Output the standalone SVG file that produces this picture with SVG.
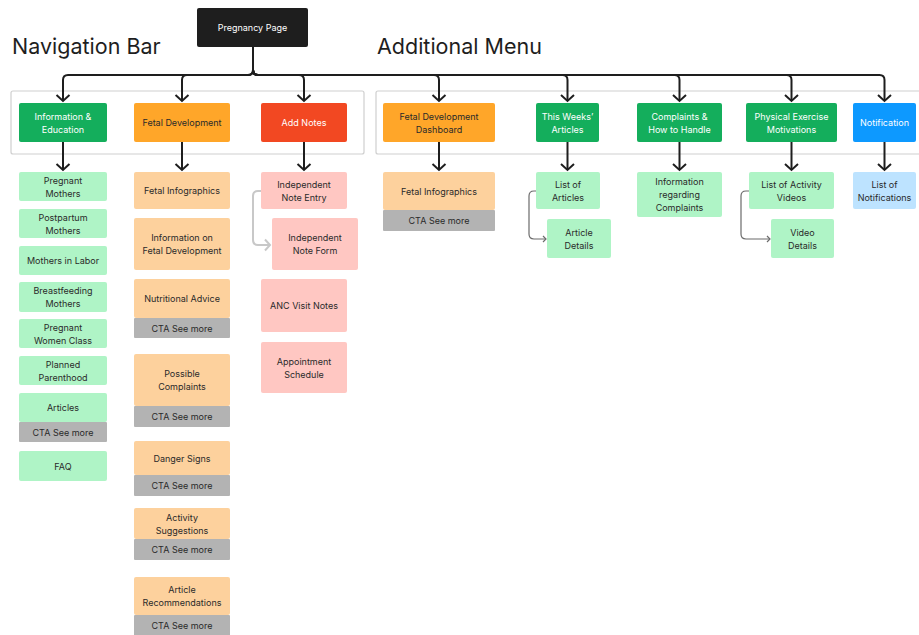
<svg xmlns="http://www.w3.org/2000/svg" width="919" height="635" viewBox="0 0 919 635">
  <defs>
    <style>
      .t{font-family:Inter,"Liberation Sans",sans-serif;font-size:9px;text-anchor:middle;dominant-baseline:central}
      .h{font-family:Inter,"Liberation Sans",sans-serif;font-size:21.5px;fill:#1e1e1e}
      .w{fill:#ffffff}
      .d{fill:#2a2a2a}
      .k{fill:#1e1e1e}
      .g{fill:#14ae5c}
      .o{fill:#ffa629}
      .r{fill:#f24822}
      .b{fill:#0d99ff}
      .lg{fill:#aff4c6}
      .lo{fill:#fdd19d}
      .lr{fill:#ffc7c2}
      .lb{fill:#bde3ff}
      .gr{fill:#b3b3b3}
      .frame{fill:none;stroke:#cfcfcf;stroke-width:1.2}
      .main{fill:none;stroke:#1e1e1e;stroke-width:2;marker-end:url(#ah)}
      .soft{fill:none;stroke:#c8c8c8;stroke-width:2;marker-end:url(#ahSoft)}
      .thin{fill:none;stroke:#6b6b6b;stroke-width:1.2;marker-end:url(#ahThin)}
    </style>
    <marker id="ah" viewBox="-8 -8 10 16" refX="0" refY="0" markerWidth="10" markerHeight="16" markerUnits="userSpaceOnUse" orient="auto" overflow="visible">
      <path d="M-6,-6.5 L0,0 L-6,6.5" fill="none" stroke="#1e1e1e" stroke-width="2"/>
    </marker>
    <marker id="ahSoft" viewBox="-8 -8 10 16" refX="0" refY="0" markerWidth="10" markerHeight="16" markerUnits="userSpaceOnUse" orient="auto" overflow="visible">
      <path d="M-5,-5.5 L0,0 L-5,5.5" fill="none" stroke="#c8c8c8" stroke-width="2"/>
    </marker>
    <marker id="ahThin" viewBox="-5 -5 6 10" refX="0" refY="0" markerWidth="6" markerHeight="10" markerUnits="userSpaceOnUse" orient="auto" overflow="visible">
      <path d="M-3,-3 L0,0 L-3,3" fill="none" stroke="#6b6b6b" stroke-width="1.2"/>
    </marker>
  </defs>

  <rect width="919" height="635" fill="#ffffff"/>

  <!-- section titles -->
  <text class="h" x="12" y="54">Navigation Bar</text>
  <text class="h" x="377" y="54">Additional Menu</text>

  <!-- section frames -->
  <rect class="frame" x="11" y="91" width="353" height="63" rx="2"/>
  <rect class="frame" x="376" y="91" width="560" height="63" rx="2"/>

  <g id="connectors">
    <!-- root to first level -->
    <path class="main" d="M253,47 V70 Q253,75 248,75 H68 Q63,75 63,80 V101"/>
    <path class="main" d="M253,47 V70 Q253,75 248,75 H187 Q182,75 182,80 V101"/>
    <path class="main" d="M253,47 V70 Q253,75 258,75 H299 Q304,75 304,80 V101"/>
    <path class="main" d="M253,47 V70 Q253,75 258,75 H434 Q439,75 439,80 V101"/>
    <path class="main" d="M253,47 V70 Q253,75 258,75 H562.5 Q567.5,75 567.5,80 V101"/>
    <path class="main" d="M253,47 V70 Q253,75 258,75 H674.5 Q679.5,75 679.5,80 V101"/>
    <path class="main" d="M253,47 V70 Q253,75 258,75 H786.5 Q791.5,75 791.5,80 V101"/>
    <path class="main" d="M253,47 V70 Q253,75 258,75 H879.5 Q884.5,75 884.5,80 V101"/>
    <!-- first level to second level -->
    <path class="main" d="M63,142 V170"/>
    <path class="main" d="M182,142 V170"/>
    <path class="main" d="M304,142 V170"/>
    <path class="main" d="M439,142 V170"/>
    <path class="main" d="M567.5,142 V170"/>
    <path class="main" d="M679.5,142 V170"/>
    <path class="main" d="M791.5,142 V170"/>
    <path class="main" d="M884.5,142 V170"/>
    <!-- detail links -->
    <path class="soft" d="M261,191 H258 Q253,191 253,196 V240 Q253,245 258,245 H270"/>
    <path class="thin" d="M536,191 H534 Q529,191 529,196 V234 Q529,239 534,239 H546"/>
    <path class="thin" d="M749,191 H746 Q741,191 741,196 V234 Q741,239 746,239 H770"/>
  </g>

  <!-- root -->
  <g id="pregnancy-page">
    <rect class="k" x="197" y="8" width="111" height="39" rx="2"/>
    <text class="t w" x="252.5" y="27.5">Pregnancy Page</text>
  </g>

  <!-- navigation bar, first level -->
  <g id="information-education">
    <rect class="g" x="19" y="103" width="88" height="39" rx="2"/>
    <text class="t w" x="63" y="116">Information &amp;</text>
    <text class="t w" x="63" y="129">Education</text>
  </g>
  <g id="fetal-development">
    <rect class="o" x="134" y="103" width="96" height="39" rx="2"/>
    <text class="t d" x="182" y="122.5">Fetal Development</text>
  </g>
  <g id="add-notes">
    <rect class="r" x="261" y="103" width="86" height="39" rx="2"/>
    <text class="t w" x="304" y="122.5">Add Notes</text>
  </g>

  <!-- additional menu, first level -->
  <g id="fetal-development-dashboard">
    <rect class="o" x="383" y="103" width="112" height="39" rx="2"/>
    <text class="t d" x="439" y="116">Fetal Development</text>
    <text class="t d" x="439" y="129">Dashboard</text>
  </g>
  <g id="this-weeks-articles">
    <rect class="g" x="536" y="103" width="63" height="39" rx="2"/>
    <text class="t w" x="567.5" y="116">This Weeks’</text>
    <text class="t w" x="567.5" y="129">Articles</text>
  </g>
  <g id="complaints-how-to-handle">
    <rect class="g" x="637" y="103" width="85" height="39" rx="2"/>
    <text class="t w" x="679.5" y="116">Complaints &amp;</text>
    <text class="t w" x="679.5" y="129">How to Handle</text>
  </g>
  <g id="physical-exercise-motivations">
    <rect class="g" x="746" y="103" width="91" height="39" rx="2"/>
    <text class="t w" x="791.5" y="116">Physical Exercise</text>
    <text class="t w" x="791.5" y="129">Motivations</text>
  </g>
  <g id="notification">
    <rect class="b" x="853" y="103" width="63" height="39" rx="2"/>
    <text class="t w" x="884.5" y="122.5">Notification</text>
  </g>

  <!-- information & education children -->
  <g id="pregnant-mothers">
    <rect class="lg" x="19" y="172" width="88" height="29" rx="2"/>
    <text class="t d" x="63" y="180">Pregnant</text>
    <text class="t d" x="63" y="193">Mothers</text>
  </g>
  <g id="postpartum-mothers">
    <rect class="lg" x="19" y="209" width="88" height="29" rx="2"/>
    <text class="t d" x="63" y="217">Postpartum</text>
    <text class="t d" x="63" y="230">Mothers</text>
  </g>
  <g id="mothers-in-labor">
    <rect class="lg" x="19" y="246" width="88" height="29" rx="2"/>
    <text class="t d" x="63" y="260.5">Mothers in Labor</text>
  </g>
  <g id="breastfeeding-mothers">
    <rect class="lg" x="19" y="282" width="88" height="30" rx="2"/>
    <text class="t d" x="63" y="290.5">Breastfeeding</text>
    <text class="t d" x="63" y="303.5">Mothers</text>
  </g>
  <g id="pregnant-women-class">
    <rect class="lg" x="19" y="319" width="88" height="29" rx="2"/>
    <text class="t d" x="63" y="327">Pregnant</text>
    <text class="t d" x="63" y="340">Women Class</text>
  </g>
  <g id="planned-parenthood">
    <rect class="lg" x="19" y="356" width="88" height="29" rx="2"/>
    <text class="t d" x="63" y="364">Planned</text>
    <text class="t d" x="63" y="377">Parenthood</text>
  </g>
  <g id="articles">
    <rect class="lg" x="19" y="393" width="88" height="29" rx="2"/>
    <rect class="gr" x="19" y="422" width="88" height="20" rx="1"/>
    <text class="t d" x="63" y="407.5">Articles</text>
    <text class="t d" x="63" y="432">CTA See more</text>
  </g>
  <g id="faq">
    <rect class="lg" x="19" y="451" width="88" height="30" rx="2"/>
    <text class="t d" x="63" y="466">FAQ</text>
  </g>

  <!-- fetal development children -->
  <g id="fetal-infographics">
    <rect class="lo" x="134" y="172" width="96" height="37" rx="2"/>
    <text class="t d" x="182" y="190.5">Fetal Infographics</text>
  </g>
  <g id="information-on-fetal-development">
    <rect class="lo" x="134" y="218" width="96" height="52" rx="2"/>
    <text class="t d" x="182" y="237.5">Information on</text>
    <text class="t d" x="182" y="250.5">Fetal Development</text>
  </g>
  <g id="nutritional-advice">
    <rect class="lo" x="134" y="279" width="96" height="39" rx="2"/>
    <rect class="gr" x="134" y="318" width="96" height="20" rx="1"/>
    <text class="t d" x="182" y="298.5">Nutritional Advice</text>
    <text class="t d" x="182" y="328">CTA See more</text>
  </g>
  <g id="possible-complaints">
    <rect class="lo" x="134" y="354" width="96" height="52" rx="2"/>
    <rect class="gr" x="134" y="406" width="96" height="21" rx="1"/>
    <text class="t d" x="182" y="373.5">Possible</text>
    <text class="t d" x="182" y="386.5">Complaints</text>
    <text class="t d" x="182" y="416.5">CTA See more</text>
  </g>
  <g id="danger-signs">
    <rect class="lo" x="134" y="441" width="96" height="34" rx="2"/>
    <rect class="gr" x="134" y="475" width="96" height="21" rx="1"/>
    <text class="t d" x="182" y="458">Danger Signs</text>
    <text class="t d" x="182" y="485.5">CTA See more</text>
  </g>
  <g id="activity-suggestions">
    <rect class="lo" x="134" y="508" width="96" height="31" rx="2"/>
    <rect class="gr" x="134" y="539" width="96" height="21" rx="1"/>
    <text class="t d" x="182" y="517.5">Activity</text>
    <text class="t d" x="182" y="530.5">Suggestions</text>
    <text class="t d" x="182" y="549.5">CTA See more</text>
  </g>
  <g id="article-recommendations">
    <rect class="lo" x="134" y="577" width="96" height="38" rx="2"/>
    <rect class="gr" x="134" y="615" width="96" height="21" rx="1"/>
    <text class="t d" x="182" y="589.5">Article</text>
    <text class="t d" x="182" y="602.5">Recommendations</text>
    <text class="t d" x="182" y="625.5">CTA See more</text>
  </g>

  <!-- add notes children -->
  <g id="independent-note-entry">
    <rect class="lr" x="261" y="172" width="86" height="37" rx="2"/>
    <text class="t d" x="304" y="184">Independent</text>
    <text class="t d" x="304" y="197">Note Entry</text>
  </g>
  <g id="independent-note-form">
    <rect class="lr" x="272" y="218" width="86" height="52" rx="2"/>
    <text class="t d" x="315" y="237.5">Independent</text>
    <text class="t d" x="315" y="250.5">Note Form</text>
  </g>
  <g id="anc-visit-notes">
    <rect class="lr" x="261" y="279" width="86" height="53" rx="2"/>
    <text class="t d" x="304" y="305.5">ANC Visit Notes</text>
  </g>
  <g id="appointment-schedule">
    <rect class="lr" x="261" y="342" width="86" height="51" rx="2"/>
    <text class="t d" x="304" y="361">Appointment</text>
    <text class="t d" x="304" y="374">Schedule</text>
  </g>

  <!-- additional menu children -->
  <g id="dashboard-fetal-infographics">
    <rect class="lo" x="383" y="172" width="112" height="38" rx="2"/>
    <rect class="gr" x="383" y="210" width="112" height="21" rx="1"/>
    <text class="t d" x="439" y="191">Fetal Infographics</text>
    <text class="t d" x="439" y="220.5">CTA See more</text>
  </g>
  <g id="list-of-articles">
    <rect class="lg" x="536" y="172" width="64" height="37" rx="2"/>
    <text class="t d" x="568" y="184">List of</text>
    <text class="t d" x="568" y="197">Articles</text>
  </g>
  <g id="article-details">
    <rect class="lg" x="547" y="219" width="64" height="39" rx="2"/>
    <text class="t d" x="579" y="232">Article</text>
    <text class="t d" x="579" y="245">Details</text>
  </g>
  <g id="information-regarding-complaints">
    <rect class="lg" x="637" y="172" width="85" height="45" rx="2"/>
    <text class="t d" x="679.5" y="181.5">Information</text>
    <text class="t d" x="679.5" y="194.5">regarding</text>
    <text class="t d" x="679.5" y="207.5">Complaints</text>
  </g>
  <g id="list-of-activity-videos">
    <rect class="lg" x="749" y="172" width="85" height="37" rx="2"/>
    <text class="t d" x="791.5" y="184">List of Activity</text>
    <text class="t d" x="791.5" y="197">Videos</text>
  </g>
  <g id="video-details">
    <rect class="lg" x="771" y="219" width="63" height="39" rx="2"/>
    <text class="t d" x="802.5" y="232">Video</text>
    <text class="t d" x="802.5" y="245">Details</text>
  </g>
  <g id="list-of-notifications">
    <rect class="lb" x="853" y="172" width="63" height="37" rx="2"/>
    <text class="t d" x="884.5" y="184">List of</text>
    <text class="t d" x="884.5" y="197">Notifications</text>
  </g>
</svg>
